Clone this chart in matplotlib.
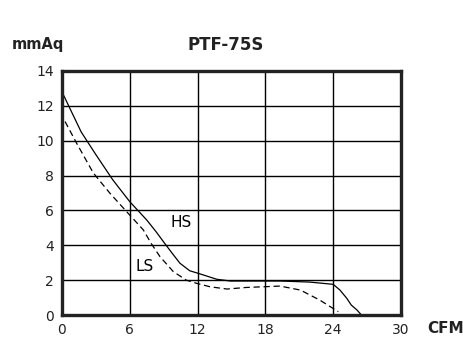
import matplotlib
matplotlib.use("Agg")
from matplotlib import pyplot as plt

# curva HS (alta velocidad)
hs_x = [0, 1.7, 3.0, 4.5, 6.0, 7.5, 8.3, 9.1, 9.8, 10.44, 11.3, 12.06, 13.7, 14.9, 19.3, 21.9, 24.0, 24.6, 25.2, 25.6, 26.1, 26.5]
hs_y = [12.8, 10.5, 9.2, 7.75, 6.5, 5.45, 4.8, 4.1, 3.5, 2.97, 2.54, 2.39, 2.05, 1.95, 1.95, 1.89, 1.76, 1.43, 0.96, 0.57, 0.29, 0.0]

# curva LS (baja velocidad)
ls_x = [0.27, 1.3, 2.77, 4.25, 5.72, 7.2, 7.9, 8.67, 9.85, 11.0, 11.9, 13.1, 14.6, 16.3, 19.3, 21.1, 22.8, 24.45]
ls_y = [11.1, 9.85, 8.15, 6.98, 5.93, 4.88, 4.1, 3.35, 2.49, 2.0, 1.82, 1.62, 1.49, 1.58, 1.66, 1.43, 0.86, 0.19]

xticks = [0, 6, 12, 18, 24, 30]
yticks = [0, 2, 4, 6, 8, 10, 12, 14]

fig = plt.figure(figsize=(4.64, 3.58), dpi=100)
ax = fig.add_axes([0.1336, 0.1201, 0.7306, 0.6816])

ax.plot(hs_x, hs_y, color="black", lw=0.9)
ax.plot(ls_x, ls_y, color="black", lw=0.9, ls=(0, (5, 3)))

ax.set_xlim(0, 30)
ax.set_ylim(0, 14)
ax.set_xticks(xticks)
ax.set_yticks(yticks)
ax.grid(True, color="black", lw=1.0)
ax.tick_params(length=0, labelsize=10, pad=6, colors="#222222")
for s in ax.spines.values():
    s.set_linewidth(2.4)
    s.set_color("#222222")

ax.text(10.5, 5.3, "HS", fontsize=11, ha="center", va="center")
ax.text(7.3, 2.8, "LS", fontsize=11, ha="center", va="center")

fig.text(0.082, 0.875, "mmAq", fontsize=10.5, fontweight="semibold", ha="center", va="center", color="#222222")
fig.text(0.487, 0.875, "PTF-75S", fontsize=12, fontweight="bold", ha="center", va="center", color="#222222")
fig.text(0.96, 0.083, "CFM", fontsize=11, fontweight="bold", ha="center", va="center", color="#222222")

fig.savefig("out.png", dpi=100)
